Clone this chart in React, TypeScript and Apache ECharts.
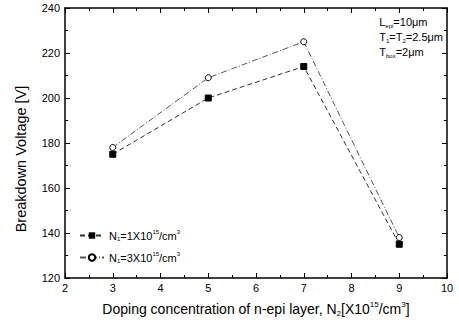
import React, { useEffect, useRef } from "react";
import * as echarts from "echarts";

const xValues = [3, 5, 7, 9];
const seriesN1 = [175, 200, 214, 135];
const seriesN3 = [178, 209, 225, 138];
const legendNames = ["N1=1X10^15/cm^3", "N1=3X10^15/cm^3"];

const FONT = "Liberation Sans, Arial, sans-serif";

export default function App() {
  const ref = useRef<HTMLDivElement>(null);
  useEffect(() => {
    if (!ref.current) return;
    const chart = echarts.init(ref.current, undefined, { renderer: "svg" });
    const axisCommon = {
      axisLine: { show: true, lineStyle: { color: "#000", width: 1.5 } },
      axisTick: { show: true, inside: true, length: 5, lineStyle: { color: "#000" } },
      minorTick: { show: true, splitNumber: 2, length: 3, lineStyle: { color: "#000" } },
      splitLine: { show: false },
    };
    const subRich = {
      b: { fontSize: 14, fontFamily: FONT, color: "#000", lineHeight: 17 },
      sub: { fontSize: 8, fontFamily: FONT, color: "#000", verticalAlign: "bottom", lineHeight: 10 },
      sup: { fontSize: 8, fontFamily: FONT, color: "#000", verticalAlign: "top", lineHeight: 10 },
    };
    const legRich = {
      b: { fontSize: 11, fontFamily: FONT, color: "#000", lineHeight: 13 },
      sub: { fontSize: 6, fontFamily: FONT, color: "#000", verticalAlign: "bottom", lineHeight: 8 },
      sup: { fontSize: 6, fontFamily: FONT, color: "#000", verticalAlign: "top", lineHeight: 8 },
    };
    const annRich = {
      b: { fontSize: 11, fontFamily: FONT, color: "#000", lineHeight: 15 },
      sub: { fontSize: 6, fontFamily: FONT, color: "#000", verticalAlign: "bottom", lineHeight: 9 },
    };
    chart.setOption({
      animation: false,
      backgroundColor: "#fff",
      grid: { left: 65, right: 12, top: 8, bottom: 47 },
      xAxis: [
        {
          type: "value",
          min: 2,
          max: 10,
          interval: 1,
          ...axisCommon,
          axisLabel: { color: "#000", fontSize: 11, fontFamily: FONT, margin: 4 },
          name: "{b|Doping concentration of n-epi layer, N}{sub|2}{b|[X10}{sup|15}{b|/cm}{sup|3}{b|]}",
          nameLocation: "middle",
          nameGap: 22,
          nameTextStyle: { rich: subRich },
        },
        {
          type: "value",
          position: "top",
          min: 2,
          max: 10,
          interval: 1,
          ...axisCommon,
          axisLabel: { show: false },
        },
      ],
      yAxis: [
        {
          type: "value",
          min: 120,
          max: 240,
          interval: 20,
          ...axisCommon,
          axisLabel: { color: "#000", fontSize: 11, fontFamily: FONT, margin: 5 },
          name: "Breakdown Voltage [V]",
          nameLocation: "middle",
          nameGap: 37,
          nameTextStyle: { color: "#000", fontSize: 14.5, fontFamily: FONT, padding: [0, 32, 0, 0] },
        },
        {
          type: "value",
          position: "right",
          min: 120,
          max: 240,
          interval: 20,
          ...axisCommon,
          axisLabel: { show: false },
        },
      ],
      legend: {
        orient: "vertical",
        left: 74,
        top: 224,
        itemWidth: 24,
        itemHeight: 8,
        itemGap: 9,
        data: legendNames,
        formatter: (name: string) =>
          name === legendNames[0]
            ? "{b|N}{sub|1}{b|=1X10}{sup|15}{b|/cm}{sup|3}"
            : "{b|N}{sub|1}{b|=3X10}{sup|15}{b|/cm}{sup|3}",
        textStyle: { rich: legRich },
      },
      graphic: [
        {
          type: "text",
          right: 16,
          top: 16,
          style: {
            text: "{b|L}{sub|epi}{b|=10μm}\n{b|T}{sub|1}{b|=T}{sub|2}{b|=2.5μm}\n{b|T}{sub|box}{b|=2μm}",
            rich: annRich,
            fill: "#000",
          },
        },
      ],
      series: [
        {
          name: legendNames[0],
          type: "line",
          data: xValues.map((x, i) => [x, seriesN1[i]]),
          symbol: "rect",
          symbolSize: 6,
          itemStyle: { color: "#000", borderColor: "#000" },
          lineStyle: { color: "#333", width: 1, type: [5, 3] },
        },
        {
          name: legendNames[1],
          type: "line",
          data: xValues.map((x, i) => [x, seriesN3[i]]),
          symbol: "circle",
          symbolSize: 6,
          itemStyle: { color: "#fff", borderColor: "#000", borderWidth: 1 },
          lineStyle: { color: "#555", width: 1, type: [6, 2, 1, 2] },
        },
      ],
    });
    return () => chart.dispose();
  }, []);
  return (
    <div
      ref={ref}
      style={{ position: "absolute", left: 0, top: 0, width: 459, height: 325 }}
    />
  );
}
